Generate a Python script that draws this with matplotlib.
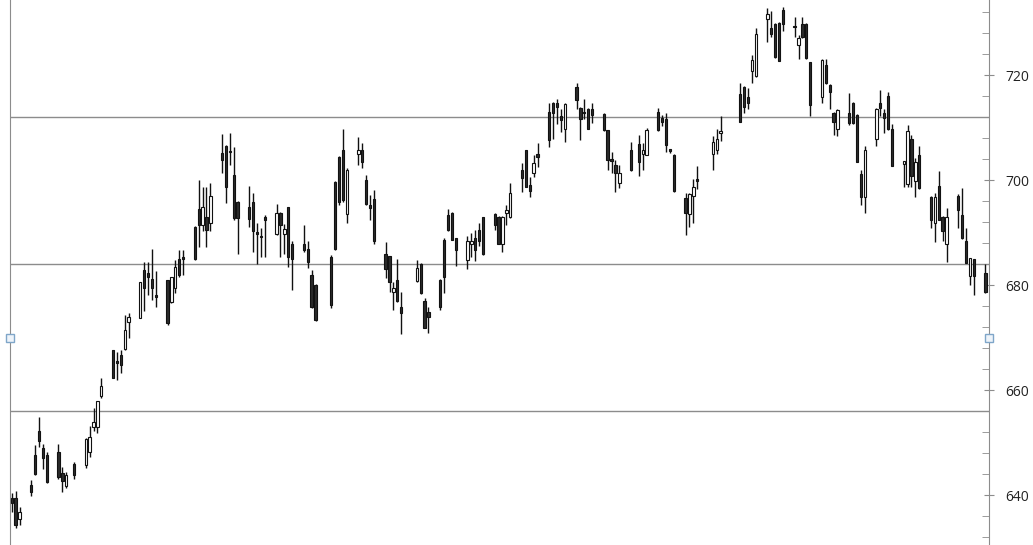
import matplotlib
matplotlib.use("Agg")
import matplotlib.pyplot as plt
import matplotlib.dates as mdates
import matplotlib.transforms as mtransforms
from matplotlib.ticker import MultipleLocator
import pandas as pd

# trading days (weekdays without the closed days)
start, end = "2015-01-07", "2015-09-14"
closed_days = ["2015-01-22", "2015-03-27", "2015-04-20", "2015-06-16",
               "2015-07-03", "2015-07-09", "2015-07-10"]

opens = [
    639.4, 639.4, 635.4,
    641.9, 647.6, 652.1, 648.9, 647.6,
    648.2, 644.1, 641.8, 646.0,
    645.8, 648.1, 652.9, 652.9, 658.9,
    667.6, 665.6, 666.7, 667.9, 673.0,
    673.8, 682.9, 682.3, 681.1, 678.1,
    680.9, 676.8, 679.4, 684.9, 685.4,
    691.1, 694.4, 691.4, 692.9, 691.9,
    705.1, 706.5, 705.5, 700.9, 695.9,
    694.8, 695.9, 690.0, 689.2, 693.0,
    689.8, 693.8, 689.7, 694.8, 687.9,
    687.9, 686.8, 681.9, 680.0,
    685.4, 699.7, 704.4, 705.8, 693.6,
    704.9, 705.8, 700.0, 695.2, 696.3,
    685.9, 685.5, 678.7, 681.0, 675.9,
    680.8, 684.0, 677.0, 674.9,
    681.0, 688.6, 693.3, 693.8, 688.9,
    684.8, 687.9, 688.9, 690.5, 692.9,
    693.5, 693.0, 687.9, 693.8, 692.9,
    701.9, 705.7, 699.0, 701.3, 704.9,
    713.0, 714.6, 714.7, 712.1, 709.8,
    717.8, 713.8, 713.0, 713.5, 713.5,
    712.6, 709.5, 703.9, 702.9, 699.4,
    705.8, 706.9, 704.9, 704.8,
    713.0, 711.9, 711.7, 705.8, 704.8,
    696.5, 693.5, 696.9, 700.1,
    704.9, 705.8, 708.9,
    716.4, 717.8, 715.9, 720.8, 719.8,
    730.6, 728.9, 729.8, 730.0, 732.4,
    729.3, 725.7, 729.8, 729.8, 722.4,
    715.9, 721.9, 718.1, 712.8, 709.8,
    712.8, 714.7, 712.4, 701.1, 696.8,
    707.9, 714.7, 712.7, 716.0, 709.8,
    703.0, 699.2, 707.9, 699.9, 704.8,
    696.8, 691.9, 698.9, 693.0, 687.9,
    697.0, 693.3, 688.4, 681.7, 684.9,
    682.3,
]
highs = [
    640.3, 640.8, 637.8,
    642.9, 649.6, 654.8, 649.8, 648.1,
    649.8, 645.4, 644.4, 646.3,
    650.8, 653.1, 656.5, 658.0, 662.2,
    667.7, 667.3, 667.7, 674.3, 674.7,
    680.6, 684.3, 684.4, 686.8, 682.7,
    681.0, 681.6, 684.8, 686.7, 686.7,
    691.2, 700.0, 698.7, 698.7, 699.4,
    708.8, 706.6, 708.9, 706.2, 696.0,
    698.9, 697.6, 691.9, 690.8, 693.3,
    695.4, 693.9, 691.7, 694.9, 688.3,
    691.4, 688.3, 682.9, 680.1,
    685.7, 699.8, 704.5, 709.8, 702.2,
    708.1, 707.0, 701.0, 697.1, 698.1,
    688.1, 685.6, 680.6, 684.9, 678.7,
    684.8, 684.1, 677.5, 675.9,
    681.1, 688.9, 694.4, 694.0, 689.0,
    689.3, 689.9, 690.5, 691.9, 693.0,
    693.8, 693.2, 693.1, 695.2, 699.5,
    703.2, 705.8, 700.6, 704.8, 707.0,
    714.6, 714.9, 715.4, 713.6, 714.6,
    718.5, 713.9, 715.4, 713.8, 714.6,
    712.7, 709.6, 705.4, 703.8, 702.9,
    707.3, 708.6, 707.0, 710.0,
    713.8, 712.4, 712.7, 706.0, 704.9,
    697.5, 697.6, 700.1, 702.7,
    708.4, 709.8, 712.1,
    718.4, 717.9, 717.5, 723.8, 728.9,
    732.7, 732.1, 730.0, 730.1, 733.0,
    731.1, 727.6, 731.1, 729.9, 722.5,
    723.0, 723.0, 718.2, 712.9, 713.6,
    716.5, 714.8, 712.5, 701.9, 706.4,
    713.8, 717.1, 713.5, 716.8, 710.7,
    703.7, 710.5, 708.6, 704.1, 706.5,
    697.0, 697.5, 701.8, 693.1, 694.6,
    697.3, 698.4, 690.8, 685.2, 685.0,
    684.0,
]
lows = [
    636.8, 633.8, 634.3,
    639.9, 643.8, 649.2, 644.9, 642.3,
    643.0, 640.6, 641.4, 643.0,
    645.1, 647.3, 652.1, 651.9, 658.4,
    662.2, 661.9, 663.2, 667.6, 670.0,
    673.8, 675.1, 678.1, 677.1, 675.9,
    672.4, 676.5, 678.5, 681.6, 681.9,
    684.8, 687.3, 690.2, 687.2, 690.3,
    701.3, 695.6, 702.9, 692.4, 686.0,
    691.1, 686.3, 684.0, 685.4, 685.4,
    689.5, 685.3, 686.0, 683.4, 679.0,
    686.3, 683.2, 675.7, 673.2,
    675.7, 686.7, 695.2, 695.9, 691.8,
    702.9, 702.2, 695.2, 692.4, 687.9,
    681.3, 678.7, 675.2, 676.8, 670.7,
    680.5, 678.3, 671.8, 670.9,
    675.2, 678.5, 690.2, 688.5, 683.6,
    683.0, 685.4, 684.6, 687.4, 685.7,
    690.5, 687.8, 686.3, 691.4, 692.8,
    697.8, 698.6, 696.8, 700.6, 702.4,
    706.3, 707.9, 710.7, 709.2, 707.3,
    713.5, 707.7, 711.7, 709.7, 710.9,
    709.4, 702.0, 701.3, 697.8, 698.4,
    701.8, 700.8, 702.0, 704.7,
    709.4, 710.2, 705.4, 705.1, 697.8,
    689.5, 691.0, 691.9, 698.2,
    702.0, 704.9, 707.5,
    711.0, 712.8, 713.5, 718.5, 719.7,
    726.2, 727.3, 723.3, 722.6, 728.3,
    727.3, 723.0, 727.1, 723.1, 712.1,
    714.6, 718.3, 713.5, 708.6, 708.3,
    710.5, 710.7, 703.4, 695.2, 693.7,
    706.4, 712.1, 708.9, 709.6, 702.6,
    698.7, 698.7, 698.7, 696.7, 698.3,
    690.8, 688.2, 692.3, 688.3, 684.4,
    690.8, 688.8, 684.1, 680.0, 678.1,
    678.4,
]
closes = [
    638.4, 634.3, 636.8,
    640.6, 644.0, 650.2, 647.0, 642.5,
    643.5, 642.7, 643.8, 643.8,
    650.6, 651.1, 654.0, 657.9, 660.8,
    662.3, 665.2, 664.8, 671.4, 673.9,
    680.5, 679.4, 681.5, 679.4, 677.8,
    672.7, 681.5, 683.5, 681.9, 684.9,
    684.9, 691.4, 694.8, 690.5, 697.0,
    703.9, 698.7, 705.3, 692.7, 692.7,
    692.5, 690.2, 689.8, 689.1, 692.4,
    693.8, 691.4, 690.6, 685.4, 684.9,
    686.7, 684.3, 675.9, 673.3,
    676.2, 686.8, 695.9, 696.2, 701.9,
    705.8, 703.5, 695.4, 694.6, 688.3,
    683.0, 680.5, 679.4, 677.0, 674.7,
    683.2, 678.5, 671.9, 673.9,
    675.9, 681.6, 690.5, 688.6, 686.7,
    688.4, 688.4, 686.7, 688.3, 685.9,
    691.4, 687.9, 693.0, 694.3, 697.5,
    700.3, 698.7, 698.0, 703.2, 704.3,
    707.6, 712.7, 714.0, 711.4, 714.5,
    715.2, 711.7, 712.8, 709.8, 712.4,
    709.5, 703.9, 703.7, 701.3, 701.3,
    701.9, 703.5, 705.7, 709.6,
    709.5, 711.1, 706.7, 705.6, 698.0,
    693.8, 697.3, 698.7, 699.9,
    707.3, 707.9, 709.4,
    711.1, 714.0, 714.7, 722.9, 727.9,
    731.7, 727.9, 723.4, 722.7, 729.7,
    729.1, 727.0, 727.2, 723.2, 714.3,
    722.9, 718.4, 716.8, 711.1, 713.3,
    710.8, 710.8, 703.5, 696.7, 705.7,
    713.5, 713.7, 711.9, 709.7, 702.7,
    703.6, 709.3, 700.8, 703.5, 698.4,
    692.3, 696.7, 692.4, 690.3, 693.0,
    694.3, 688.9, 684.2, 685.1, 681.7,
    678.7,
]

grid_levels = [656, 684, 712]
handle_level = 670

days = pd.bdate_range(start, end)
days = days[~days.isin(pd.to_datetime(closed_days))]
x = mdates.date2num(days.to_pydatetime())

fig = plt.figure(figsize=(10.33, 5.45), dpi=100)
ax = fig.add_axes([10 / 1033, 0, 979 / 1033, 1])

for level in grid_levels:
    ax.axhline(level, color="#8c8c8c", linewidth=1.0, zorder=1)

ax.vlines(x, lows, highs, color="#111111", linewidth=1.0, zorder=2)

for xi, o, c in zip(x, opens, closes):
    lo = min(o, c)
    h = max(abs(c - o), 0.25)
    if c >= o:
        ax.bar(xi, h, bottom=lo, width=0.6, color="white",
               edgecolor="#111111", linewidth=0.8, zorder=3)
    else:
        ax.bar(xi, h, bottom=lo, width=0.6, color="#2b2b2b",
               edgecolor="#111111", linewidth=0.8, zorder=3)

ax.set_xlim(x[0] - 0.44, x[0] + 250.9)
ax.set_ylim(630.48, 734.29)

for side in ["top", "bottom"]:
    ax.spines[side].set_visible(False)
ax.spines["left"].set_color("#8c8c8c")
ax.spines["right"].set_color("#8c8c8c")
ax.set_xticks([])
ax.yaxis.tick_right()
ax.yaxis.set_major_locator(MultipleLocator(20))
ax.yaxis.set_minor_locator(MultipleLocator(4))
ax.tick_params(axis="y", which="major", direction="inout", length=7,
               color="#8c8c8c", pad=8, labelsize=10, labelcolor="#222222",
               left=False, right=True)
ax.tick_params(axis="y", which="minor", direction="in", length=5,
               color="#8c8c8c", left=False, right=True)
for lab in ax.get_yticklabels():
    lab.set_fontfamily(["Open Sans", "DejaVu Sans"])

trans = mtransforms.blended_transform_factory(ax.transAxes, ax.transData)
ax.plot([0, 1], [handle_level, handle_level], linestyle="none", marker="s",
        markersize=5.5, markerfacecolor="#eef4fa", markeredgecolor="#7fa6c9",
        markeredgewidth=1.0, transform=trans, clip_on=False, zorder=5)

fig.savefig("out.png", dpi=100)
